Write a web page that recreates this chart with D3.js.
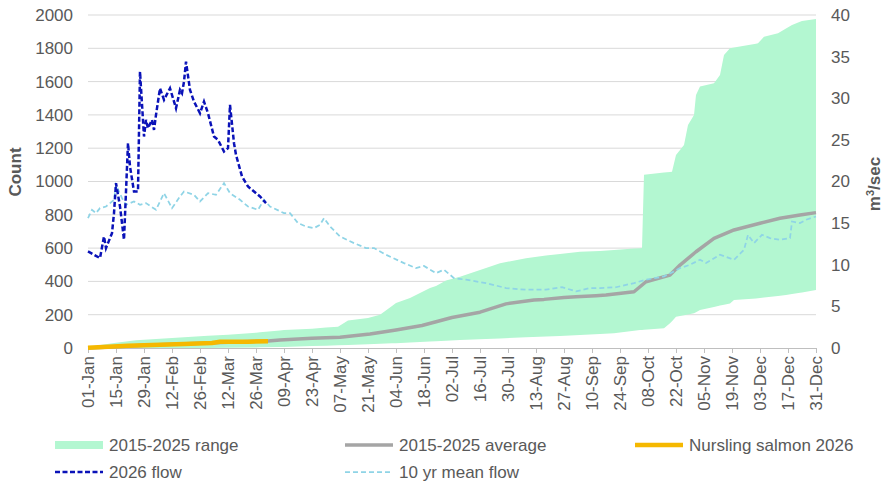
<!DOCTYPE html>
<html>
<head>
<meta charset="utf-8">
<script src="https://cdn.jsdelivr.net/npm/d3@7"></script>
<style>
  html, body { margin: 0; padding: 0; background: #fff; }
  svg { display: block; font-family: "Liberation Sans", Arial, sans-serif; }
</style>
</head>
<body>
<svg id="chart" width="885" height="482"></svg>
<script>
// Day-of-year offsets (0 = 1 Jan) with values.
const tickLabels = ["01-Jan","15-Jan","29-Jan","12-Feb","26-Feb","12-Mar","26-Mar","09-Apr","23-Apr",
  "07-May","21-May","04-Jun","18-Jun","02-Jul","16-Jul","30-Jul","13-Aug","27-Aug","10-Sep","24-Sep",
  "08-Oct","22-Oct","05-Nov","19-Nov","03-Dec","17-Dec","31-Dec"];
const countTicks = [0, 200, 400, 600, 800, 1000, 1200, 1400, 1600, 1800, 2000];
const flowTicks = [0, 5, 10, 15, 20, 25, 30, 35, 40];

// 2015-2025 range of counts: upper and lower envelope
const rangeUpper = [[0,0],[7,20],[14,32],[24,46],[42,60],[56,70],[70,80],[84,92],[98,108],[112,116],
  [125,128],[130,165],[140,180],[146,200],[154,270],[161,300],[171,360],[174,372],[179,405],[186,428],
  [199,480],[206,509],[219,539],[229,555],[236,565],[246,578],[256,583],[273,598],[277,600],[278,1040],
  [292,1059],[294,1159],[298,1219],[300,1339],[303,1399],[304,1520],[306,1570],[313,1590],[316,1640],
  [318,1760],[321,1800],[335,1830],[338,1870],[345,1890],[352,1940],[357,1964],[364,1976]];
const rangeLower = [[0,0],[60,0],[86,4],[96,6],[119,14],[152,28],[186,48],[219,64],[246,78],[263,88],
  [276,108],[288,118],[291,148],[294,188],[303,208],[306,228],[321,268],[323,288],[334,298],[349,318],
  [356,332],[364,348]];

// 2015-2025 average count
const average = [[0,0],[14,8],[28,16],[42,22],[56,28],[70,34],[84,40],[90,42],[96,48],[112,58],[126,64],
  [141,84],[154,108],[167,135],[182,183],[196,215],[209,265],[223,288],[228,292],[238,304],[244,308],
  [254,314],[259,318],[273,338],[279,398],[291,438],[296,498],[304,578],[313,659],[323,709],[336,749],
  [346,779],[356,799],[364,813]];

// Nursling salmon 2026 cumulative count
const nursling = [[0,2],[10,8],[20,14],[32,18],[48,24],[62,30],[66,38],[80,38],[90,40]];

// 2026 river flow, m3/sec
const flow2026 = [[0,11.6],[3,11.2],[6,10.8],[8,13.4],[9,12.0],[10,12.6],[12,13.8],[13,16.2],[14,19.8],
  [16,17.0],[18,13.0],[20,24.6],[21,21.8],[23,18.8],[25,18.8],[26,33.2],[28,25.4],[29,27.4],[30,26.4],
  [32,27.4],[33,26.2],[34,28.0],[36,31.2],[38,29.8],[41,31.2],[44,28.8],[46,31.0],[47,30.6],[48,32.0],
  [49,34.4],[51,31.0],[53,29.6],[56,28.2],[58,29.6],[60,28.2],[63,25.4],[65,25.0],[68,23.6],[70,24.0],
  [71,29.2],[73,24.6],[74,23.2],[77,20.6],[80,19.4],[82,19.0],[86,18.2],[89,17.4]];

// 10 year mean flow, m3/sec
const meanFlow = [[0,15.6],[2,16.6],[4,16.2],[6,16.8],[9,17.0],[13,17.8],[14,19.6],[17,18.0],[19,17.2],
  [23,17.6],[26,17.2],[29,17.4],[34,16.6],[38,18.6],[42,16.8],[46,18.2],[48,18.8],[53,18.4],[56,17.6],
  [60,18.6],[64,18.4],[68,19.8],[71,18.6],[76,17.8],[80,17.0],[85,16.6],[88,17.8],[91,17.0],[98,16.2],
  [101,16.2],[105,15.0],[109,14.6],[113,14.4],[116,14.8],[118,15.6],[121,14.6],[126,13.4],[133,12.6],
  [139,12.0],[143,12.0],[149,11.2],[158,10.2],[164,9.6],[168,9.85],[174,9.0],[178,9.4],[183,8.4],
  [189,8.2],[199,7.8],[209,7.2],[219,7.0],[229,7.0],[237,7.3],[244,6.8],[251,7.2],[256,7.2],[264,7.3],
  [273,7.8],[279,8.2],[288,8.6],[293,9.2],[296,9.6],[301,10.0],[306,10.6],[309,10.2],[316,11.2],
  [323,10.6],[328,11.8],[330,13.6],[333,12.6],[337,13.6],[341,13.2],[346,13.0],[351,13.2],[352,15.2],
  [356,15.0],[359,15.4],[364,15.8]];

const textColor = "#595959";
const fontSize = 17;
const yearStart = new Date(2026, 0, 1);
const toDate = d => d3.timeDay.offset(yearStart, d);
const parseTick = d3.timeParse("%d-%b-%Y");

const svg = d3.select("#chart");
const margin = { left: 88, right: 816, top: 15, bottom: 348 };

const x = d3.scaleTime().domain([yearStart, new Date(2026, 11, 31)]).range([margin.left, margin.right]);
const yCount = d3.scaleLinear().domain([0, 2000]).range([margin.bottom, margin.top]);
const yFlow = d3.scaleLinear().domain([0, 40]).range([margin.bottom, margin.top]);

// Horizontal gridlines
svg.append("g").selectAll("line").data(countTicks.slice(1)).join("line")
  .attr("x1", margin.left).attr("x2", margin.right)
  .attr("y1", d => yCount(d)).attr("y2", d => yCount(d))
  .attr("stroke", "#d9d9d9").attr("stroke-width", 1);

// Range band: both envelopes evaluated on the union of their day positions
const rangeDays = Array.from(new Set(rangeUpper.map(d => d[0]).concat(rangeLower.map(d => d[0])))).sort((a, b) => a - b);
const lookup = arr => d => {
  for (let i = 0; i < arr.length - 1; i++) {
    if (d >= arr[i][0] && d <= arr[i + 1][0]) {
      const t = (d - arr[i][0]) / (arr[i + 1][0] - arr[i][0]);
      return arr[i][1] + t * (arr[i + 1][1] - arr[i][1]);
    }
  }
  return arr[arr.length - 1][1];
};
const upAt = lookup(rangeUpper), lowAt = lookup(rangeLower);
svg.append("path")
  .datum(rangeDays)
  .attr("fill", "#b3f7d1")
  .attr("d", d3.area()
    .x(d => x(toDate(d)))
    .y0(d => yCount(lowAt(d)))
    .y1(d => yCount(upAt(d))));

// Bottom axis
const xAxis = svg.append("g")
  .attr("transform", `translate(0,${margin.bottom})`)
  .call(d3.axisBottom(x)
    .tickValues(tickLabels.map(t => parseTick(t + "-2026")))
    .tickSize(5).tickSizeOuter(0)
    .tickFormat(d3.timeFormat("%d-%b")));
xAxis.select(".domain").attr("stroke", "#bfbfbf");
xAxis.selectAll(".tick line").attr("stroke", "#bfbfbf");
xAxis.selectAll(".tick text")
  .attr("fill", textColor).attr("font-size", fontSize)
  .attr("font-family", "Liberation Sans, Arial, sans-serif")
  .attr("transform", "rotate(-90)")
  .attr("text-anchor", "end")
  .attr("x", -8).attr("y", 0).attr("dy", "0.35em");

// Left and right axis labels
svg.append("g").selectAll("text").data(countTicks).join("text")
  .attr("x", 73).attr("y", d => yCount(d)).attr("dy", "0.35em")
  .attr("text-anchor", "end").attr("fill", textColor).attr("font-size", fontSize)
  .text(d => d);
svg.append("g").selectAll("text").data(flowTicks).join("text")
  .attr("x", 831).attr("y", d => yFlow(d)).attr("dy", "0.35em")
  .attr("text-anchor", "start").attr("fill", textColor).attr("font-size", fontSize)
  .text(d => d);

svg.append("text")
  .attr("transform", "translate(15,172) rotate(-90)")
  .attr("text-anchor", "middle").attr("dy", "0.35em")
  .attr("fill", textColor).attr("font-size", fontSize).attr("font-weight", "bold")
  .text("Count");
const unit = svg.append("text")
  .attr("transform", "translate(874,184) rotate(-90)")
  .attr("text-anchor", "middle").attr("dy", "0.35em")
  .attr("fill", textColor).attr("font-size", fontSize).attr("font-weight", "bold");
unit.append("tspan").text("m");
unit.append("tspan").attr("baseline-shift", "super").attr("font-size", 11).text("3");
unit.append("tspan").text("/sec");

// Lines
const countLine = d3.line().x(d => x(toDate(d[0]))).y(d => yCount(d[1]));
const flowLine = d3.line().x(d => x(toDate(d[0]))).y(d => yFlow(d[1]));

svg.append("path").datum(average).attr("d", countLine)
  .attr("fill", "none").attr("stroke", "#a5a5a5").attr("stroke-width", 3.5).attr("stroke-linejoin", "round");
svg.append("path").datum(nursling).attr("d", countLine)
  .attr("fill", "none").attr("stroke", "#f5b800").attr("stroke-width", 4.5).attr("stroke-linejoin", "round");
svg.append("path").datum(meanFlow).attr("d", flowLine)
  .attr("fill", "none").attr("stroke", "#8fd4e6").attr("stroke-width", 1.75).attr("stroke-dasharray", "5,3");
svg.append("path").datum(flow2026).attr("d", flowLine)
  .attr("fill", "none").attr("stroke", "#0a12b8").attr("stroke-width", 2.5).attr("stroke-dasharray", "5,2.5");

// Legend
const legendItems = [
  { label: "2015-2025 range", type: "band", color: "#b3f7d1", x: 55, y: 445 },
  { label: "2015-2025 average", type: "line", color: "#a5a5a5", width: 3.5, x: 345, y: 445 },
  { label: "Nursling salmon 2026", type: "line", color: "#f5b800", width: 4.5, x: 635, y: 445 },
  { label: "2026 flow", type: "dash", color: "#0a12b8", width: 2.5, dash: "5,2.5", x: 55, y: 472 },
  { label: "10 yr mean flow", type: "dash", color: "#8fd4e6", width: 1.75, dash: "5,3", x: 345, y: 472 }
];
const lg = svg.append("g").selectAll("g").data(legendItems).join("g")
  .attr("transform", d => `translate(${d.x},${d.y})`);
lg.filter(d => d.type === "band").append("rect")
  .attr("x", 0).attr("y", -4).attr("width", 48).attr("height", 8).attr("fill", d => d.color);
lg.filter(d => d.type !== "band").append("line")
  .attr("x1", 0).attr("x2", 48).attr("y1", 0).attr("y2", 0)
  .attr("stroke", d => d.color).attr("stroke-width", d => d.width)
  .attr("stroke-dasharray", d => d.dash || null);
lg.append("text")
  .attr("x", 54).attr("y", 0).attr("dy", "0.35em")
  .attr("fill", textColor).attr("font-size", fontSize)
  .text(d => d.label);
</script>
</body>
</html>
